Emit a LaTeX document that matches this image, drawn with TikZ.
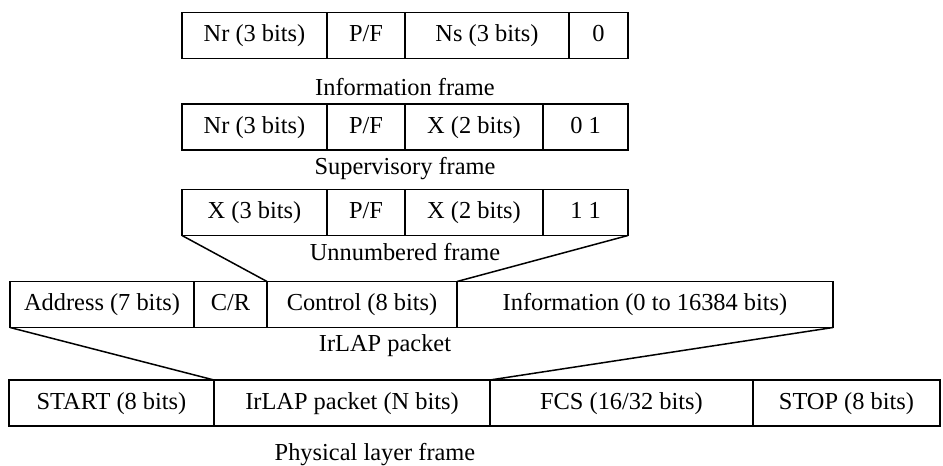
\documentclass[tikz,border=0pt]{standalone}
\usepackage{fontspec}
\setmainfont{Liberation Serif}
\usetikzlibrary{positioning}

\begin{document}
\begin{tikzpicture}[x=0.5pt,y=-0.5pt,line width=0.75pt,
    font=\fontsize{12.2}{14}\selectfont,
    field/.style={draw, minimum height=23pt, inner sep=0pt, outer sep=0pt,
      text height=8.6pt, text depth=2.6pt},
    caption/.style={inner sep=0pt}]
  \useasboundingbox (0,0) rectangle (943,466);
  % information frame
  \node[field, minimum width=72.5pt, anchor=west] (inr) at (182,35.5) {Nr (3 bits)};
  \node[field, minimum width=39pt, right=0pt of inr] (ipf) {P/F};
  \node[field, minimum width=82pt, right=0pt of ipf] (ins) {Ns (3 bits)};
  \node[field, minimum width=29.5pt, right=0pt of ins] (ibit) {0};
  \node[caption] (ilab) at (405,87) {Information frame};
  % supervisory frame
  \node[field, minimum width=72.5pt, anchor=west] (snr) at (182,127) {Nr (3 bits)};
  \node[field, minimum width=39pt, right=0pt of snr] (spf) {P/F};
  \node[field, minimum width=69pt, right=0pt of spf] (sx) {X (2 bits)};
  \node[field, minimum width=42.5pt, right=0pt of sx] (sbit) {0 1};
  \node[caption] (slab) at (405,169) {Supervisory frame};
  % unnumbered frame
  \node[field, minimum width=72.5pt, anchor=west] (ux) at (182,212.5) {X (3 bits)};
  \node[field, minimum width=39pt, right=0pt of ux] (upf) {P/F};
  \node[field, minimum width=69pt, right=0pt of upf] (uxx) {X (2 bits)};
  \node[field, minimum width=42.5pt, right=0pt of uxx] (ubit) {1 1};
  \node[caption] (ulab) at (405,252) {Unnumbered frame};
  % IrLAP packet
  \node[field, minimum width=92pt, anchor=west] (adr) at (10,304.5) {Address (7 bits)};
  \node[field, minimum width=36.5pt, right=0pt of adr] (cr) {C/R};
  \node[field, minimum width=95pt, right=0pt of cr] (ctl) {Control (8 bits)};
  \node[field, minimum width=188pt, right=0pt of ctl] (inf) {Information (0 to 16384 bits)};
  \node[caption] (plab) at (385,346) {IrLAP packet};
  % physical layer frame
  \node[field, minimum width=102.5pt, anchor=west] (start) at (9,403) {START (8 bits)};
  \node[field, minimum width=138pt, right=0pt of start] (pkt) {IrLAP packet (N bits)};
  \node[field, minimum width=131.5pt, right=0pt of pkt] (fcs) {FCS (16/32 bits)};
  \node[field, minimum width=93.5pt, right=0pt of fcs] (stop) {STOP (8 bits)};
  \node[caption] (flab) at (375,455) {Physical layer frame};

  \draw (ux.south west) -- (ctl.north west);
  \draw (ubit.south east) -- (inf.north west);
  \draw (adr.south west) -- (start.north east);
  \draw (inf.south east) -- (fcs.north west);
\end{tikzpicture}
\end{document}
